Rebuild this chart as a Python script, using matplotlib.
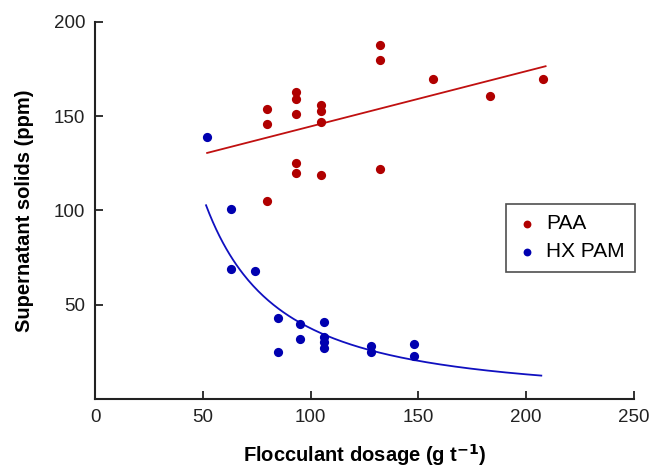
import numpy as np
import matplotlib
matplotlib.use("Agg")
import matplotlib.pyplot as plt

plt.rcParams["font.family"] = ["Liberation Sans", "DejaVu Sans"]

# PAA points
paa_x = [80, 80, 80, 93, 93, 93, 93, 93, 105, 105, 105, 105,
         132, 132, 132, 157, 183, 208]
paa_y = [154, 146, 105, 163, 159, 151, 125, 120, 156, 153, 147, 119,
         188, 180, 122, 170, 161, 170]

# HX PAM points
pam_x = [52, 63, 63, 74, 85, 85, 95, 95, 106, 106, 106, 106,
         128, 128, 148, 148]
pam_y = [139, 101, 69, 68, 43, 25, 40, 32, 41, 33, 30, 27,
         28, 25, 29, 23]

# fitted trend lines
paa_fit_range = (52, 209)
paa_slope, paa_icpt = 0.293, 115.3
pam_fit_range = (51.5, 207)
pam_a, pam_b = 41100.0, -1.52

RED = "#b00000"
BLUE = "#0000b0"

fig = plt.figure(figsize=(6.54, 4.69), dpi=100)
ax = fig.add_axes([0.1453, 0.1493, 0.8241, 0.8038])

xl = np.linspace(*paa_fit_range, 50)
ax.plot(xl, paa_slope * xl + paa_icpt, color="#c01010", lw=1.3, zorder=2)
xc = np.linspace(*pam_fit_range, 200)
ax.plot(xc, pam_a * xc ** pam_b, color="#1010c0", lw=1.3, zorder=2)

ax.scatter(paa_x, paa_y, s=44, color=RED, label="PAA", zorder=3, lw=0)
ax.scatter(pam_x, pam_y, s=44, color=BLUE, label="HX PAM", zorder=3, lw=0)

ax.set_xlim(0, 250)
ax.set_ylim(0, 200)
ax.set_xticks([0, 50, 100, 150, 200, 250])
ax.set_yticks([50, 100, 150, 200])
for s in ["top", "right"]:
    ax.spines[s].set_visible(False)
for s in ["left", "bottom"]:
    ax.spines[s].set_linewidth(1.5)
    ax.spines[s].set_color("#222222")
ax.tick_params(direction="in", length=5.5, width=1.3, color="#222222",
               labelsize=13.5, pad=7, labelcolor="#222222")

ax.set_xlabel("Flocculant dosage (g t$^{\\mathbf{-1}}$)", fontsize=14.5,
              fontweight="bold", labelpad=12)
ax.set_ylabel("Supernatant solids (ppm)", fontsize=14.5,
              fontweight="bold", labelpad=14)

leg = ax.legend(loc="upper right", bbox_to_anchor=(1.002, 0.518),
                fontsize=15, frameon=True, fancybox=False,
                markerscale=0.85, handletextpad=0.4, borderpad=0.5,
                handlelength=1.0, labelspacing=0.45, borderaxespad=0)
leg.get_frame().set_edgecolor("#222222")
leg.get_frame().set_linewidth(1.2)

fig.savefig("out.png", dpi=100)
